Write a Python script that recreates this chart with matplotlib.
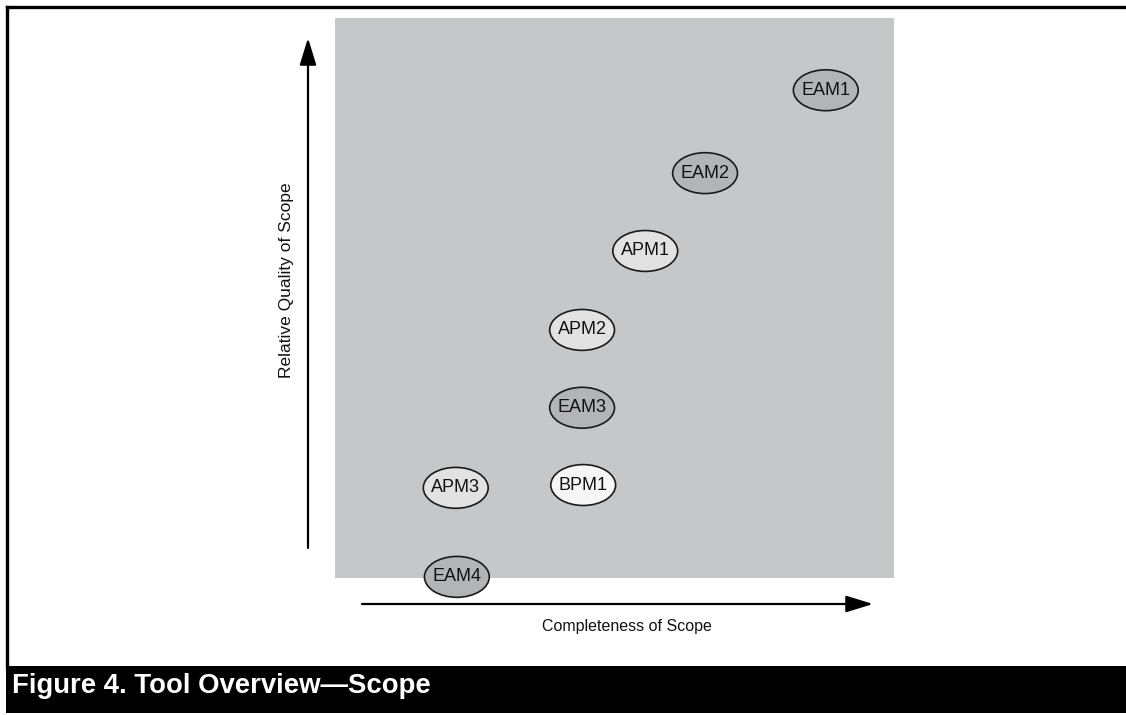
import matplotlib.pyplot as plt
from matplotlib.patches import Ellipse, Rectangle
from matplotlib.lines import Line2D

plt.rcParams['font.family'] = ['Liberation Sans', 'DejaVu Sans']

# Tools positioned by completeness (x) and relative quality (y) of scope
tools = ['EAM1', 'EAM2', 'APM1', 'APM2', 'EAM3', 'BPM1', 'APM3', 'EAM4']
completeness = [8.78, 6.62, 5.55, 4.42, 4.42, 4.44, 2.16, 2.18]
quality = [8.71, 7.23, 5.84, 4.43, 3.04, 1.66, 1.61, 0.02]
kind = ['EAM', 'EAM', 'APM', 'APM', 'EAM', 'BPM', 'APM', 'EAM']

fills = {'EAM': '#b3b4b6', 'APM': '#e2e2e3', 'BPM': '#f6f6f6'}

W, H = 1126, 715
fig = plt.figure(figsize=(W / 100, H / 100), dpi=100)

# overlay in pixel coordinates for the frame, arrows and caption
deco = fig.add_axes([0, 0, 1, 1])
deco.set_xlim(0, W)
deco.set_ylim(H, 0)
deco.axis('off')

# grey plotting square
ax = fig.add_axes([335 / W, (H - 578) / H, 559 / W, 560 / H])
ax.set_xlim(0, 10)
ax.set_ylim(0, 10)
ax.set_facecolor('#c6c7c9')
for s in ax.spines.values():
    s.set_visible(False)
ax.set_xticks([])
ax.set_yticks([])

for name, x, y, k in zip(tools, completeness, quality, kind):
    e = Ellipse((x, y), 1.16, 0.73, facecolor=fills[k], edgecolor='#1a1a1a',
                lw=1.2, clip_on=False, zorder=3)
    ax.add_patch(e)
    ax.text(x, y, name, ha='center', va='center', fontsize=13,
            color='#111111', zorder=4, clip_on=False)

# frame lines
deco.add_line(Line2D([7, 7], [7, 667], color='black', lw=2.4))
deco.add_line(Line2D([7, W], [7, 7], color='black', lw=2.4))

# axis arrows
arrow = dict(arrowstyle='-|>,head_length=0.55,head_width=0.17', color='black',
             lw=1.6, mutation_scale=30, shrinkA=0, shrinkB=0)
deco.annotate('', xy=(308, 38), xytext=(308, 548), arrowprops=arrow)
deco.annotate('', xy=(873, 604), xytext=(362, 604), arrowprops=arrow)

deco.text(627, 626, 'Completeness of Scope', ha='center', va='center',
          fontsize=11.5, color='#111111')
deco.text(287, 280, 'Relative Quality of Scope', ha='center', va='center',
          rotation=90, fontsize=12.5, color='#111111')

# caption bar
deco.add_patch(Rectangle((6, 666), W, 47, facecolor='black', edgecolor='none'))
deco.text(12, 686, 'Figure 4. Tool Overview\u2014Scope', ha='left', va='center',
          fontsize=19.8, fontweight='bold', color='white')

fig.savefig('out.png', dpi=100)
